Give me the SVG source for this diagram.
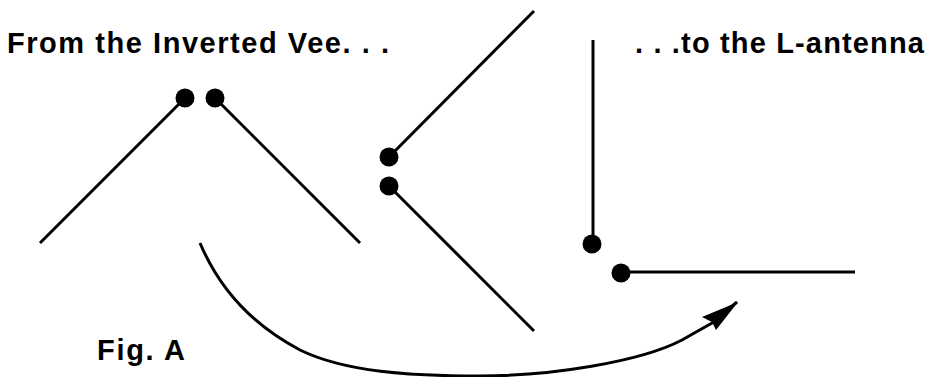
<svg xmlns="http://www.w3.org/2000/svg" width="930" height="377" viewBox="0 0 930 377">
<style>
.w{fill:none;stroke:#000;stroke-width:3}
.d{fill:#000}
text{font-family:"Liberation Sans",Arial,sans-serif;font-weight:bold;font-size:29px;fill:#000}
</style>
<rect width="930" height="377" fill="#fff"/>
<g id="title-left"><text x="7" y="53" textLength="382" lengthAdjust="spacing">From the Inverted Vee. . .</text></g>
<g id="title-right"><text x="635" y="53" textLength="289" lengthAdjust="spacing">. . .to the L-antenna</text></g>
<g id="fig-label"><text x="97" y="360" textLength="88" lengthAdjust="spacing">Fig. A</text></g>
<g id="vee"><path class="w" d="M40 243L185 98"/><path class="w" d="M215 98L360 243"/><circle class="d" cx="185" cy="98" r="9.5"/><circle class="d" cx="215" cy="98" r="9.5"/></g>
<g id="tilted"><path class="w" d="M389 157L534 11"/><path class="w" d="M389 186L534 331"/><circle class="d" cx="389" cy="157" r="9.5"/><circle class="d" cx="389" cy="186" r="9.5"/></g>
<g id="l-antenna"><path class="w" d="M593 40V244"/><path class="w" d="M621 272H855"/><circle class="d" cx="592" cy="244" r="9.5"/><circle class="d" cx="621" cy="273" r="9.5"/></g>
<g id="connectors"><path class="w" d="M200 243C222 295 258 328 300 350C345 372 410 376 480 376C550 376 640 362 682 340L712 323L737 302"/><polygon class="d" points="738,302 702,317 712,322 716,330"/></g>
</svg>
